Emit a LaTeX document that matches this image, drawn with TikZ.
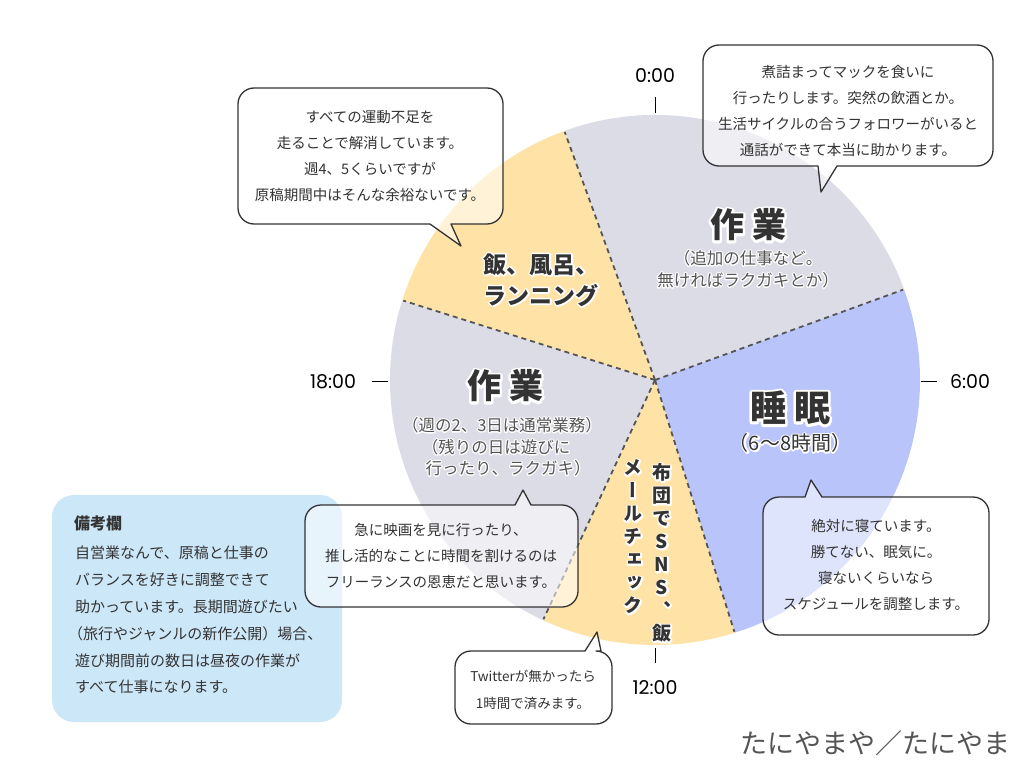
\documentclass[tikz,border=0pt]{standalone}
\usepackage{fontspec}
\setmainfont{Noto Sans CJK JP}
\newfontfamily\jpv[RawFeature=+vert]{Noto Sans CJK JP}
\newfontfamily\timefont{Poppins}
\newfontfamily\haloReg[FakeBold=15]{Noto Sans CJK JP}
\newfontfamily\haloBold[BoldFeatures={FakeBold=14}]{Noto Sans CJK JP}
\newfontfamily\haloVert[RawFeature=+vert,BoldFeatures={FakeBold=16}]{Noto Sans CJK JP}
\makeatletter
\def\hl@end{\hl@end}
\def\hl@loop#1{\ifx#1\hl@end\else\leavevmode\rlap{\color{white}\hl@face#1}#1\expandafter\hl@loop\fi}
\newcommand\haloR[1]{\def\hl@face{\haloReg}\hl@loop#1\hl@end}
\newcommand\haloB[1]{\def\hl@face{\haloBold}\hl@loop#1\hl@end}
\newcommand\haloV[1]{\def\hl@face{\haloVert}\hl@loop#1\hl@end}
\makeatother
\definecolor{pieGray}{HTML}{DCDCE6}
\definecolor{pieYellow}{HTML}{FFE3A6}
\definecolor{pieBlue}{HTML}{B9C4FB}
\definecolor{noteBlue}{HTML}{CCE7F8}
\definecolor{textDark}{HTML}{333333}
\definecolor{textMid}{HTML}{555555}
\definecolor{lineDark}{HTML}{333333}
\tikzset{
  divider/.style={draw=textMid, line width=1.8pt, dash pattern=on 5pt off 4pt},
  clocktick/.style={draw=black, line width=0.9pt},
  bubble/.style={draw=lineDark, line width=1.3pt, fill=white, fill opacity=0.55},
  boxtext/.style={align=center, text=textDark, inner sep=0pt, font=\fontsize{14.5}{26}\selectfont},
  biglabel/.style={align=center, text=textDark, inner sep=0pt, font=\bfseries\fontsize{34}{40}\selectfont},
  midlabel/.style={align=center, text=textDark, inner sep=0pt, font=\bfseries\fontsize{23}{31}\selectfont},
  sublabel/.style={align=center, text=textMid, inner sep=0pt, font=\fontsize{16.5}{22}\selectfont},
  vlabel/.style={align=center, text=textDark, inner sep=0pt, font=\jpv\bfseries\fontsize{19}{23}\selectfont},
  timelabel/.style={text=black, inner sep=0pt, font=\timefont\fontsize{19}{22}\selectfont},
}
\newcommand\bubbleDown[8]{%
\draw[bubble] ({#1+16},-#2) -- ({#3-16},-#2) arc[start angle=90,end angle=0,radius=16]
 -- (#3,{-#4+16}) arc[start angle=0,end angle=-90,radius=16]
 -- (#6,-#4) -- (#7,-#8) -- (#5,-#4)
 -- ({#1+16},-#4) arc[start angle=-90,end angle=-180,radius=16]
 -- (#1,{-#2-16}) arc[start angle=180,end angle=90,radius=16] -- cycle;}
\newcommand\bubbleUp[8]{%
\draw[bubble] ({#1+16},-#2) -- (#5,-#2) -- (#7,-#8) -- (#6,-#2) -- ({#3-16},-#2) arc[start angle=90,end angle=0,radius=16]
 -- (#3,{-#4+16}) arc[start angle=0,end angle=-90,radius=16]
 -- ({#1+16},-#4) arc[start angle=-90,end angle=-180,radius=16]
 -- (#1,{-#2-16}) arc[start angle=180,end angle=90,radius=16] -- cycle;}
\begin{document}
\begin{tikzpicture}[x=1pt,y=1pt,line join=round]
\useasboundingbox (0,0) rectangle (1024,-768);
\fill[white] (0,0) rectangle (1024,-768);
\coordinate (C) at (655,-380);
% pie sectors
\fill[pieGray] (C) -- ++(20:265) arc[start angle=20,end angle=110,radius=265] -- cycle;
\fill[pieBlue] (C) -- ++(-72.5:265) arc[start angle=-72.5,end angle=20,radius=265] -- cycle;
\fill[pieYellow] (C) -- ++(-115:265) arc[start angle=-115,end angle=-72.5,radius=265] -- cycle;
\fill[pieGray] (C) -- ++(162.5:265) arc[start angle=162.5,end angle=245,radius=265] -- cycle;
\fill[pieYellow] (C) -- ++(110:265) arc[start angle=110,end angle=162.5,radius=265] -- cycle;
% dividers
\foreach \a in {20,110,162.5,-115,-72.5}{
  \draw[divider] (C) -- ++(\a:264);
}
% clock ticks and labels
\node[timelabel] (t0) at (655,-76) {0:00};
\node[timelabel] (t6) at (970,-382) {6:00};
\node[timelabel] (t12) at (655,-688) {12:00};
\node[timelabel] (t18) at (333,-382) {18:00};
\draw[clocktick] (655,-97) -- (655,-113);
\draw[clocktick] (921,-381) -- (937,-381);
\draw[clocktick] (655,-648) -- (655,-663);
\draw[clocktick] (372,-381) -- (388,-381);
% sector labels
\node[biglabel] (w1) at (748,-225) {\haloB{作}\hspace{8pt}\haloB{業}};
\node[sublabel] (w1s) at (748,-269) {\haloR{（追加の仕事など。}\\\haloR{無ければラクガキとか）}};
\node[midlabel] (m1) at (541,-280) {\haloB{飯、風呂、}\\\haloB{ランニング}};
\node[biglabel] (w2) at (505,-386) {\haloB{作}\hspace{8pt}\haloB{業}};
\node[sublabel] (w2a) at (502,-425) {\haloR{（週の2、3日は通常業務）}};
\node[sublabel] (w2b) at (496,-447) {\haloR{（残りの日は遊びに}};
\node[sublabel] (w2c) at (508,-468) {\haloR{行ったり、ラクガキ）}};
\node[biglabel, font=\bfseries\fontsize{36}{40}\selectfont] (s1) at (790,-408) {\haloB{睡}\hspace{8pt}\haloB{眠}};
\node[sublabel, text=textDark, font=\fontsize{20}{24}\selectfont] (s2) at (790,-443) {\haloR{（6～8時間）}};
\node[vlabel] (v1) at (662,-553) {\haloV{布}\\\haloV{団}\\\haloV{で}\\\haloV{S}\\\haloV{N}\\\haloV{S}\\\haloV{、}\\\haloV{飯}};
\node[vlabel] (v2) at (633,-537) {\haloV{メ}\\\haloV{ー}\\\haloV{ル}\\\haloV{チ}\\\haloV{ェ}\\\haloV{ッ}\\\haloV{ク}};
% note box
\fill[noteBlue, rounded corners=22pt] (52,-495) rectangle (342,-722);
\node[anchor=west, text=textDark, inner sep=0pt, font=\bfseries\fontsize{16}{20}\selectfont] (n0) at (74,-523) {備考欄};
\node[anchor=north west, align=left, text=textDark, inner sep=0pt, font=\fontsize{15}{26.8}\selectfont] (n1) at (75,-546) {自営業なんで、原稿と仕事の\\バランスを好きに調整できて\\助かっています。長期間遊びたい\\\hspace{-7pt}（旅行やジャンルの新作公開）場合、\\遊び期間前の数日は昼夜の作業が\\すべて仕事になります。};
% bubbles
\bubbleDown{238}{88}{503}{224}{430}{451}{461}{246}
\node[boxtext] (b1) at (370,-156) {すべての運動不足を\\走ることで解消しています。\\週4、5くらいですが\\原稿期間中はそんな余裕ないです。};
\bubbleDown{703}{45}{993}{166}{818}{837}{821}{192}
\node[boxtext] (b2) at (848,-111) {煮詰まってマックを食いに\\行ったりします。突然の飲酒とか。\\生活サイクルの合うフォロワーがいると\\通話ができて本当に助かります。};
\bubbleUp{305}{505}{578}{607}{515}{531}{523}{490}
\node[boxtext] (b3) at (441,-556) {急に映画を見に行ったり、\\推し活的なことに時間を割けるのは\\フリーランスの恩恵だと思います。};
\bubbleUp{763}{497}{989}{635}{805}{822}{811}{480}
\node[boxtext] (b4) at (876,-565) {絶対に寝ています。\\勝てない、眠気に。\\寝ないくらいなら\\スケジュールを調整します。};
\bubbleUp{455}{651}{612}{724}{585}{601}{597}{632}
\node[boxtext, font=\fontsize{13.5}{27}\selectfont] (b5) at (533,-690) {Twitterが無かったら\\1時間で済みます。};
% signature
\node[anchor=east, text=textMid, inner sep=0pt, font=\fontsize{27}{30}\selectfont] (sg) at (1011,-743) {たにやまや／たにやま};
\end{tikzpicture}
\end{document}
